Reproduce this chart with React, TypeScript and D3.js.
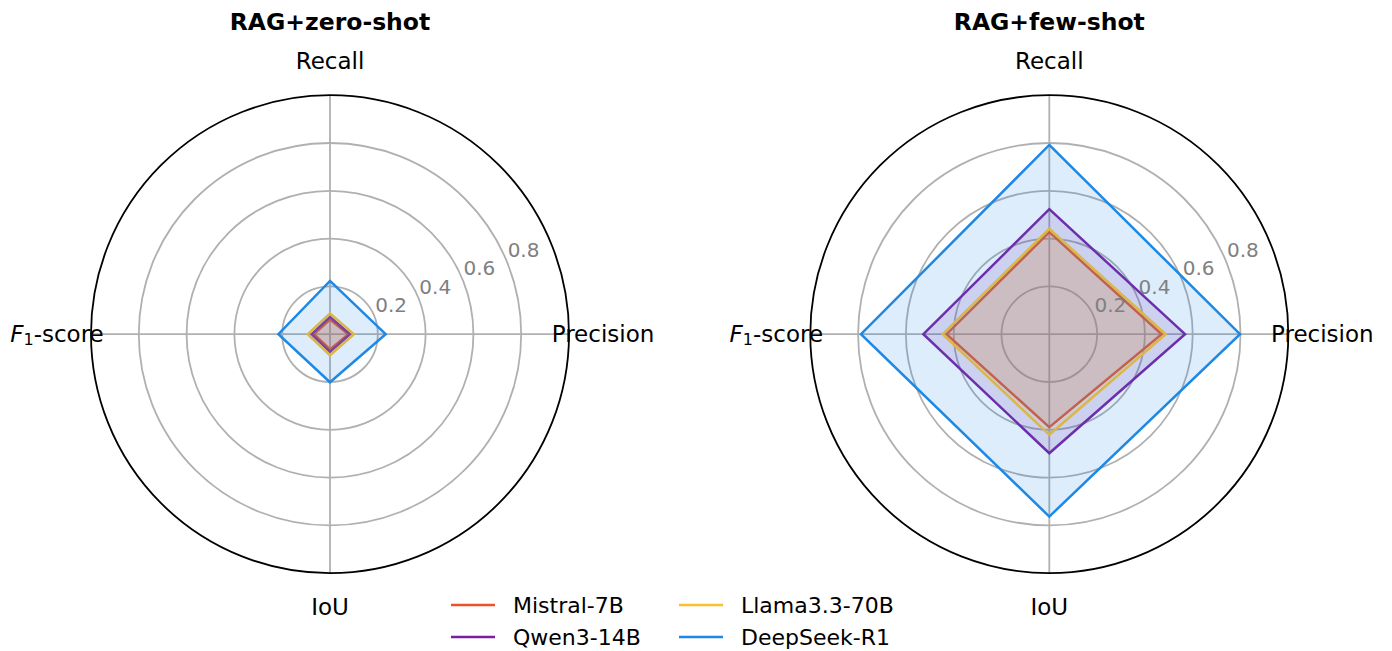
import React from "react";
import * as d3 from "d3";

const axisNames = ["Recall", "Precision", "IoU", "F1-score"]; // clockwise from top
const tickValues = [0.2, 0.4, 0.6, 0.8];
const panelTitles = ["RAG+zero-shot", "RAG+few-shot"];
const modelNames = ["Mistral-7B", "Qwen3-14B", "Llama3.3-70B", "DeepSeek-R1"];
const modelColors = ["#EE5126", "#7B1FA2", "#FBC02D", "#1E88E5"];

// values ordered [Recall, Precision, IoU, F1-score]
const zeroShotMistral = [0.061, 0.077, 0.064, 0.067];
const zeroShotQwen = [0.072, 0.084, 0.074, 0.077];
const zeroShotLlama = [0.087, 0.1, 0.088, 0.093];
const zeroShotDeepSeek = [0.223, 0.233, 0.201, 0.216];

const fewShotMistral = [0.427, 0.47, 0.389, 0.43];
const fewShotQwen = [0.523, 0.568, 0.498, 0.527];
const fewShotLlama = [0.441, 0.487, 0.421, 0.446];
const fewShotDeepSeek = [0.792, 0.798, 0.763, 0.788];

const panels = [
  [zeroShotMistral, zeroShotQwen, zeroShotLlama, zeroShotDeepSeek],
  [fewShotMistral, fewShotQwen, fewShotLlama, fewShotDeepSeek],
];

const FONT = "DejaVu Sans, sans-serif";
const R = 239;
const centers = [
  [330, 334.2],
  [1049.3, 334.2],
];

function AxisLabel({ name, x, y }: { name: string; x: number; y: number }) {
  if (name === "F1-score") {
    return (
      <text x={x} y={y} textAnchor="middle" dominantBaseline="central" fontSize={23} fontFamily={FONT} fill="#000">
        <tspan fontStyle="italic">F</tspan>
        <tspan fontSize={16} dy={5}>1</tspan>
        <tspan dy={-5}>-score</tspan>
      </text>
    );
  }
  return (
    <text x={x} y={y} textAnchor="middle" dominantBaseline="central" fontSize={23} fontFamily={FONT} fill="#000">
      {name}
    </text>
  );
}

function Panel({ idx }: { idx: number }) {
  const [cx, cy] = centers[idx];
  const r = d3.scaleLinear().domain([0, 1]).range([0, R]);
  const angle = d3
    .scalePoint<string>()
    .domain(axisNames)
    .range([0, (2 * Math.PI * (axisNames.length - 1)) / axisNames.length]);
  const line = d3
    .lineRadial<number>()
    .angle((_, i) => angle(axisNames[i]) as number)
    .radius((v) => r(v))
    .curve(d3.curveLinearClosed);
  const labelR = 273;
  const tickAng = (67.5 * Math.PI) / 180;
  const data = panels[idx];
  return (
    <g>
      <text x={cx} y={30} textAnchor="middle" fontSize={23.5} fontWeight="bold" fontFamily={FONT} fill="#000">
        {panelTitles[idx]}
      </text>
      <g transform={`translate(${cx},${cy})`}>
        {tickValues.map((t) => (
          <circle key={t} r={r(t)} fill="none" stroke="#b0b0b0" strokeWidth={1.8} />
        ))}
        {axisNames.map((a) => {
          const th = angle(a) as number;
          return (
            <line
              key={a}
              x1={0}
              y1={0}
              x2={R * Math.sin(th)}
              y2={-R * Math.cos(th)}
              stroke="#b0b0b0"
              strokeWidth={1.8}
            />
          );
        })}
        {data.map((vals, i) => (
          <path
            key={modelNames[i]}
            d={line(vals) || ""}
            fill={modelColors[i]}
            fillOpacity={0.15}
            stroke={modelColors[i]}
            strokeWidth={2.5}
            strokeLinejoin="miter"
          />
        ))}
        {tickValues.map((t) => {
          const x = r(t) * Math.sin(tickAng);
          const y = -r(t) * Math.cos(tickAng);
          return (
            <text key={t} x={x + 1} y={y - 4} textAnchor="start" fontSize={20} fontFamily={FONT} fill="#808080">
              {t.toFixed(1)}
            </text>
          );
        })}
        <circle r={R} fill="none" stroke="#000" strokeWidth={1.8} />
        {axisNames.map((a) => {
          const th = angle(a) as number;
          return (
            <AxisLabel key={a} name={a} x={labelR * Math.sin(th)} y={-labelR * Math.cos(th)} />
          );
        })}
      </g>
    </g>
  );
}

function Legend() {
  const cols = [451, 679];
  const rows = [605, 637];
  return (
    <g>
      {modelNames.map((m, i) => {
        const col = Math.floor(i / 2);
        const row = i % 2;
        const x = cols[col];
        const y = rows[row];
        return (
          <g key={m}>
            <line x1={x} x2={x + 44} y1={y} y2={y} stroke={modelColors[i]} strokeWidth={2.5} />
            <text x={x + 62} y={y} dominantBaseline="central" fontSize={22} fontFamily={FONT} fill="#000">
              {m}
            </text>
          </g>
        );
      })}
    </g>
  );
}

export default function App() {
  return (
    <svg
      width={1392}
      height={651}
      style={{ position: "absolute", left: 0, top: 0, background: "#fff", display: "block" }}
    >
      <rect width={1392} height={651} fill="#fff" />
      <Panel idx={0} />
      <Panel idx={1} />
      <Legend />
    </svg>
  );
}
